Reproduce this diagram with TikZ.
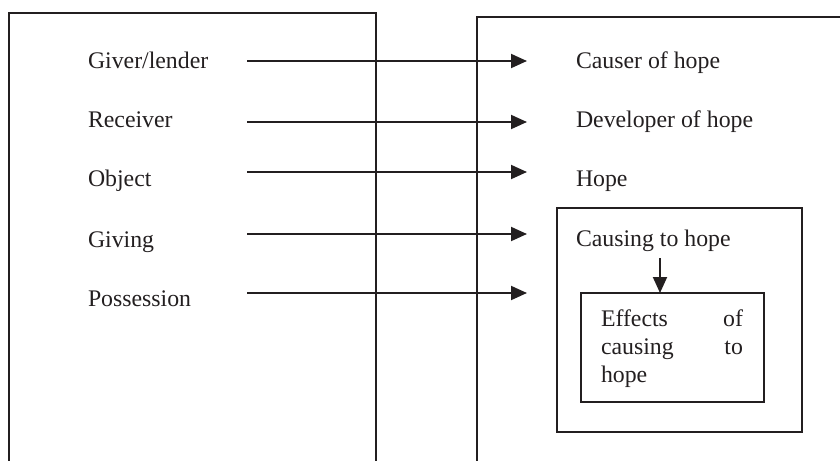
\documentclass[tikz,border=0pt]{standalone}
\usepackage{fontspec}
\setmainfont{Liberation Serif}
\usetikzlibrary{arrows.meta}
\definecolor{ink}{HTML}{231F20}
\begin{document}
\begin{tikzpicture}[x=0.75pt,y=-0.75pt,
  every node/.style={inner sep=0pt,outer sep=0pt,text=ink,font=\fontsize{17.85}{21}\selectfont},
  lbl/.style={anchor=base west},
  frame/.style={draw=ink,line width=1.4pt},
  conn/.style={draw=ink,line width=1.4pt,-{Triangle[length=12pt,width=10.5pt]}},
  boxed/.style={draw=ink,line width=1.4pt,rectangle}]
\useasboundingbox (0,0) rectangle (840,461);
% outer frames (open at bottom / right)
\draw[frame] (9,461) -- (9,13) -- (376,13) -- (376,461);
\draw[frame] (477,461) -- (477,17) -- (840,17);
% left labels
\node[lbl] (giver) at (88,68) {Giver/lender};
\node[lbl] (recv) at (88,127) {Receiver};
\node[lbl] (obj) at (88,186) {Object};
\node[lbl] (giving) at (88,247) {Giving};
\node[lbl] (poss) at (88,306) {Possession};
% right labels
\node[lbl] (causer) at (576,68) {Causer of hope};
\node[lbl] (dev) at (576,127) {Developer of hope};
\node[lbl] (hope) at (576,186) {Hope};
% inner boxes
\node[boxed,minimum width=183.75pt,minimum height=168pt] (inner) at (679.5,320) {};
\node[lbl] (causing) at (576,246) {Causing to hope};
\node[boxed,minimum width=137.25pt,minimum height=81.75pt] (effbox) at (672.5,347.5) {};
\node[anchor=base west,text width=106.5pt,align=left] (eff) at (601,326) {Effects\hfill of\\causing\hfill to\\hope};
% arrows
\foreach \i/\y in {1/61,2/122,3/172,4/234,5/293}{
  \coordinate (s\i) at (247,\y);
  \coordinate (e\i) at (527,\y);
  \draw[conn] (s\i) -- (e\i);
}
\coordinate (d0) at (660,258);
\draw[conn] (d0) -- (d0 |- effbox.north);
\end{tikzpicture}
\end{document}
